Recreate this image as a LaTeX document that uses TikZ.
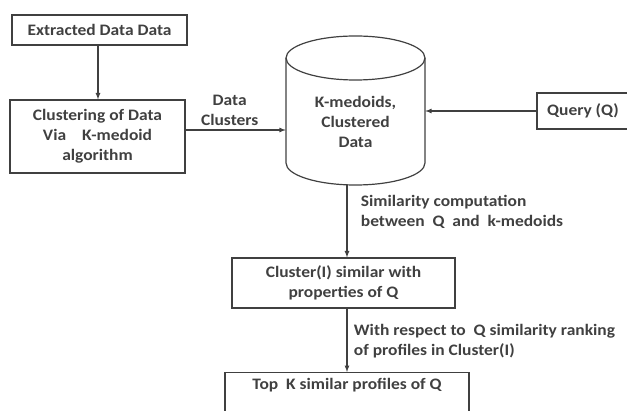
\documentclass[tikz,border=0pt]{standalone}
\usepackage{fontspec}
\setmainfont[FakeStretch=1.09]{Carlito}
\begin{document}
\begin{tikzpicture}[x=1pt, y=-1pt, font=\fontsize{16}{20}\selectfont\bfseries, color=black!75,
    box/.style={draw, line width=1.2pt, inner sep=0pt, align=center},
    link/.style={line width=1.2pt, -latex}]
        \path[use as bounding box, clip] (0,0) rectangle (627,411);

        \node[box, minimum width=175, minimum height=30] (extract) at (99.5,30) {Extracted Data Data};
        \node[box, minimum width=175, minimum height=73] (clustering) at (97.5,136.5)
            {Clustering of Data\\Via\quad K-medoid\\algorithm};
        \node[box, minimum width=92, minimum height=36] (query) at (583,111) {Query (Q)};
        \node[box, minimum width=223, minimum height=50] (similar) at (343.5,283)
            {Cluster(I) similar with\\properties of Q};
        \node[box, minimum width=244, minimum height=60, anchor=north] (topk) at (347,372) {};
        \node[anchor=north] (topktext) at ([yshift=-3pt]topk.north) {Top\ \ K similar profiles of Q};

        \node[minimum width=139, minimum height=149, inner sep=0pt] (db) at (355.5,110.5) {};
        \draw[line width=1.2pt] (286,58) -- (286,163)
            arc[start angle=180, end angle=360, x radius=69.5pt, y radius=22pt] -- (425,58);
        \draw[line width=1.2pt] (355.5,58) ellipse[x radius=69.5pt, y radius=22pt];
        \node[align=center] (dbtext) at ([yshift=-11.5pt]db.center) {K-medoids,\\Clustered\\Data};

        \coordinate (axis) at (347,0);

        \draw[link] (extract.south -| 98,0) -- (clustering.north -| 98,0);
        \draw[link] (clustering.east |- 0,130) -- (db.west |- 0,130)
            node[midway, above, xshift=-6pt, align=center] {Data\\Clusters};
        \draw[link] (query.west) -- (db.east |- query.west);
        \draw[link] (axis |- db.south) -- (axis |- similar.north)
            node[pos=0.37, right=10pt, align=left] {Similarity computation\\between\ \ Q\ \ and\ \ k-medoids};
        \draw[link] (axis |- similar.south) -- (axis |- topk.north)
            node[pos=0.52, right=3pt, align=left] {With respect to\ \ Q similarity ranking\\of profiles in Cluster(I)};
\end{tikzpicture}
\end{document}
